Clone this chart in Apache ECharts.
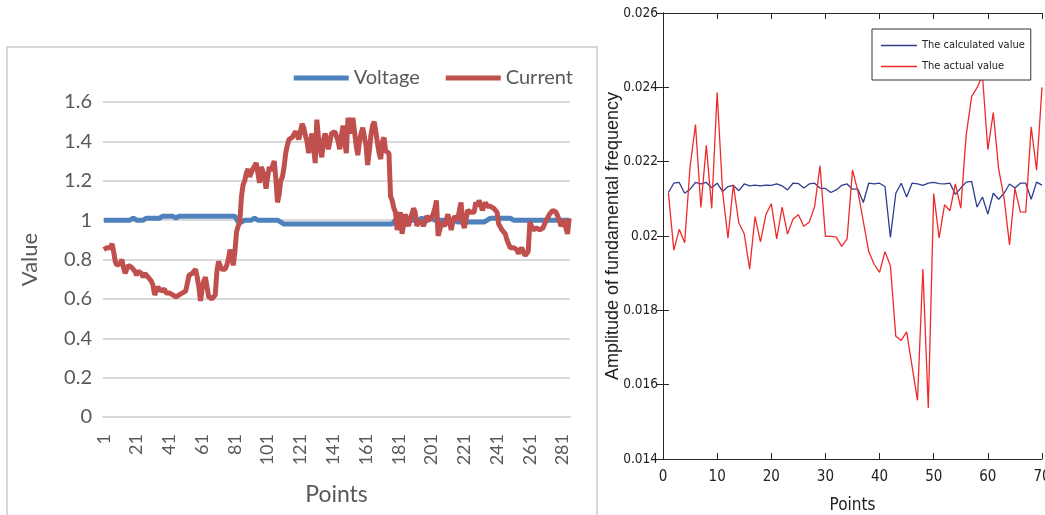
<!DOCTYPE html>
<html lang="en" style="height: 100%">
<head>
  <meta charset="utf-8" />
  <title>Voltage / current and fundamental amplitude</title>
</head>
<body style="height: 100%; margin: 0; background: #fff">
  <div id="container" style="width: 1045px; height: 515px"></div>

  <script src="https://cdn.jsdelivr.net/npm/echarts@6/dist/echarts.min.js"></script>

  <script>
    // ---- left chart data (Excel style) ----
    const voltage = [
      1.00,1.00,1.00,1.00,1.00,1.00,1.00,1.00,1.00,1.00,
      1.00,1.00,1.00,1.00,1.00,1.00,1.00,1.00,1.01,1.00,
      1.00,1.00,1.00,1.00,1.00,1.01,1.01,1.00,1.01,1.01,
      1.01,1.01,1.01,1.02,1.01,1.01,1.02,1.01,1.02,1.02,
      1.02,1.01,1.02,1.02,1.01,1.02,1.02,1.02,1.02,1.02,
      1.02,1.02,1.02,1.02,1.02,1.02,1.02,1.02,1.02,1.02,
      1.02,1.02,1.02,1.02,1.02,1.02,1.02,1.02,1.02,1.02,
      1.02,1.02,1.02,1.02,1.02,1.02,1.02,1.02,1.02,1.02,
      1.02,1.01,0.99,0.98,0.99,0.99,1.00,1.00,1.00,1.00,
      1.00,1.00,1.01,1.00,1.00,1.00,1.00,1.01,1.00,1.00,
      1.00,1.00,1.00,1.00,1.00,1.00,1.00,1.00,0.99,0.99,
      0.98,0.98,0.98,0.98,0.98,0.98,0.98,0.98,0.98,0.98,
      0.98,0.98,0.98,0.98,0.98,0.98,0.98,0.98,0.98,0.98,
      0.98,0.98,0.98,0.98,0.98,0.98,0.98,0.98,0.98,0.98,
      0.98,0.98,0.98,0.98,0.98,0.98,0.98,0.98,0.98,0.98,
      0.98,0.98,0.98,0.98,0.98,0.98,0.98,0.98,0.98,0.98,
      0.98,0.98,0.98,0.98,0.98,0.98,0.98,0.98,0.98,0.98,
      0.98,0.98,0.98,0.98,0.98,0.98,0.98,0.99,1.00,1.01,
      1.01,1.01,1.00,1.01,1.01,1.00,1.01,1.00,1.00,1.01,
      1.00,1.01,1.00,1.00,1.01,1.00,1.00,1.01,1.00,1.00,
      1.01,1.00,1.00,1.01,1.00,1.00,1.00,1.01,1.00,1.00,
      1.00,1.01,1.00,1.00,1.00,0.99,0.99,0.99,0.99,0.99,
      0.99,0.99,0.99,0.99,0.99,0.99,0.99,0.99,0.99,0.99,
      0.99,0.99,0.99,1.00,1.00,1.00,1.01,1.01,1.01,1.01,
      1.01,1.01,1.01,1.01,1.01,1.01,1.01,1.01,1.01,1.01,
      1.00,1.00,1.00,1.00,1.00,1.00,1.00,1.00,1.00,1.00,
      1.00,1.00,1.00,1.00,1.00,1.00,1.00,1.00,1.00,1.00,
      1.00,1.00,1.00,1.00,1.00,1.00,1.00,1.00,1.00,1.00,
      1.00,1.00,1.00,1.00,1.00
    ];
    const current = [
      0.85,0.85,0.86,0.85,0.86,0.88,0.84,0.79,0.77,0.76,
      0.78,0.80,0.76,0.73,0.75,0.77,0.76,0.76,0.75,0.74,
      0.72,0.74,0.75,0.73,0.71,0.73,0.73,0.71,0.71,0.69,
      0.67,0.62,0.64,0.66,0.65,0.64,0.64,0.65,0.63,0.62,
      0.63,0.63,0.62,0.61,0.61,0.62,0.62,0.63,0.63,0.64,
      0.64,0.68,0.72,0.73,0.73,0.74,0.75,0.71,0.66,0.59,
      0.65,0.69,0.71,0.66,0.61,0.60,0.60,0.60,0.62,0.74,
      0.79,0.78,0.75,0.74,0.75,0.77,0.80,0.85,0.82,0.77,
      0.84,0.94,0.97,0.99,1.12,1.18,1.20,1.24,1.26,1.22,
      1.24,1.26,1.25,1.29,1.24,1.19,1.27,1.25,1.22,1.16,
      1.22,1.27,1.25,1.24,1.30,1.21,1.09,1.13,1.20,1.22,
      1.27,1.34,1.38,1.41,1.40,1.42,1.43,1.45,1.44,1.41,
      1.45,1.49,1.47,1.43,1.40,1.34,1.39,1.44,1.37,1.29,
      1.51,1.42,1.36,1.32,1.40,1.44,1.41,1.36,1.40,1.44,
      1.45,1.45,1.46,1.40,1.36,1.43,1.48,1.40,1.34,1.52,
      1.47,1.44,1.52,1.45,1.38,1.33,1.40,1.44,1.47,1.48,
      1.38,1.28,1.35,1.43,1.48,1.50,1.45,1.39,1.34,1.31,
      1.40,1.42,1.35,1.36,1.34,1.12,1.10,1.06,1.04,0.95,
      1.00,1.04,0.93,0.98,1.03,0.99,0.97,1.01,1.03,1.06,
      1.04,0.97,0.99,1.00,0.99,0.97,0.99,1.02,1.01,1.00,
      1.01,1.03,1.06,1.10,0.92,0.95,0.99,0.98,0.97,1.00,
      1.03,0.99,0.95,0.99,1.02,1.01,1.00,1.05,1.09,0.99,
      0.96,1.00,1.05,1.04,1.04,1.05,1.04,1.09,1.07,1.10,
      1.08,1.05,1.07,1.09,1.07,1.06,1.07,1.08,1.06,1.05,
      1.04,0.98,0.97,0.95,0.95,0.93,0.90,0.88,0.86,0.85,
      0.86,0.87,0.85,0.83,0.84,0.86,0.84,0.82,0.83,0.84,
      0.99,0.97,0.95,0.95,0.96,0.96,0.95,0.96,0.96,0.97,
      1.00,1.01,1.03,1.04,1.05,1.04,1.04,1.03,1.00,0.97,
      0.98,1.00,0.96,0.93,1.01
    ];
    const points = current.map((v, i) => String(i + 1));

    // ---- right chart data (MATLAB style), points 1..70 ----
    const calculated = [
      0.02117,0.02142,0.02144,0.02115,0.02126,0.02144,0.02140,0.02144,0.02130,0.02142,
      0.02120,0.02133,0.02136,0.02122,0.02140,0.02135,0.02137,0.02135,0.02137,0.02136,
      0.02140,0.02135,0.02124,0.02142,0.02141,0.02129,0.02140,0.02142,0.02129,0.02128,
      0.02117,0.02124,0.02136,0.02140,0.02126,0.02126,0.02090,0.02142,0.02140,0.02142,
      0.02133,0.01996,0.02115,0.02142,0.02105,0.02142,0.02140,0.02136,0.02142,0.02144,
      0.02141,0.02140,0.02142,0.02112,0.02129,0.02145,0.02147,0.02078,0.02105,0.02059,
      0.02115,0.02099,0.02115,0.02140,0.02129,0.02142,0.02142,0.02099,0.02145,0.02137
    ];
    const actual = [
      0.02116,0.01962,0.02018,0.01982,0.02186,0.02300,0.02077,0.02244,0.02074,0.02386,
      0.02120,0.01994,0.02138,0.02035,0.02006,0.01911,0.02052,0.01984,0.02057,0.02087,
      0.01992,0.02078,0.02005,0.02045,0.02057,0.02026,0.02037,0.02079,0.02189,0.01999,
      0.01999,0.01997,0.01972,0.01992,0.02178,0.02120,0.02039,0.01958,0.01924,0.01902,
      0.01958,0.01920,0.01730,0.01719,0.01742,0.01650,0.01558,0.01911,0.01537,0.02114,
      0.01995,0.02084,0.02068,0.02140,0.02075,0.02272,0.02375,0.02399,0.02432,0.02232,
      0.02332,0.02180,0.02102,0.01976,0.02128,0.02065,0.02064,0.02294,0.02177,0.02400
    ];
    const rightX = actual.map((v, i) => i + 1);

    const excelFont = 'Lato, "Open Sans", sans-serif';
    const matFont = '"DejaVu Sans Condensed", "Liberation Sans", Arial, sans-serif';
    const excelGrey = '#595959';

    var dom = document.getElementById('container');
    var myChart = echarts.init(dom, null, { renderer: 'canvas' });

    var option = {
      animation: false,
      backgroundColor: '#fff',
      graphic: [
        {
          type: 'rect',
          shape: { x: 7, y: 47, width: 590, height: 480 },
          style: { fill: 'none', stroke: '#D9D9D9', lineWidth: 2 },
          z: 0
        }
      ],
      legend: [
        {
          data: ['Voltage', 'Current'],
          right: 467,
          top: 63,
          icon: 'rect',
          itemWidth: 55,
          itemHeight: 5,
          itemGap: 26,
          textStyle: { fontFamily: excelFont, fontSize: 20, color: excelGrey }
        },
        {
          data: ['The calculated value', 'The actual value'],
          orient: 'vertical',
          left: 872,
          top: 29,
          width: 157,
          padding: [11, 6, 8, 9],
          icon: 'rect',
          itemWidth: 36,
          itemHeight: 1.5,
          itemGap: 10,
          borderColor: '#333',
          borderWidth: 1,
          borderRadius: 0,
          backgroundColor: '#fff',
          textStyle: { fontFamily: matFont, fontSize: 11, color: '#222' }
        }
      ],
      grid: [
        { left: 103, top: 102, width: 467, height: 315, outerBoundsMode: 'none' },
        { left: 663, top: 13, width: 379, height: 446, outerBoundsMode: 'none' }
      ],
      xAxis: [
        {
          type: 'category',
          gridIndex: 0,
          data: points,
          boundaryGap: true,
          name: 'Points',
          nameLocation: 'middle',
          nameGap: 66,
          nameTextStyle: { fontFamily: excelFont, fontSize: 23, color: excelGrey },
          axisLine: { lineStyle: { color: '#D9D9D9', width: 2 } },
          axisTick: { show: false },
          axisLabel: {
            interval: 19,
            rotate: 90,
            margin: 17,
            fontFamily: excelFont,
            fontSize: 18,
            color: excelGrey
          }
        },
        {
          type: 'value',
          gridIndex: 1,
          min: 0,
          max: 70,
          interval: 10,
          name: 'Points',
          nameLocation: 'middle',
          nameGap: 38,
          nameMoveOverlap: false,
          nameTextStyle: { fontFamily: matFont, fontSize: 17, color: '#222' },
          splitLine: { show: false },
          axisLine: { lineStyle: { color: '#262626', width: 1 } },
          axisTick: { inside: true, length: 6, lineStyle: { color: '#262626' } },
          axisLabel: { margin: 11, fontFamily: matFont, fontSize: 15, color: '#222' }
        },
        {
          type: 'value',
          gridIndex: 1,
          position: 'top',
          min: 0,
          max: 70,
          interval: 10,
          splitLine: { show: false },
          axisLine: { lineStyle: { color: '#262626', width: 1 } },
          axisTick: { inside: true, length: 6, lineStyle: { color: '#262626' } },
          axisLabel: { show: false }
        }
      ],
      yAxis: [
        {
          type: 'value',
          gridIndex: 0,
          min: 0,
          max: 1.6,
          interval: 0.2,
          name: 'Value',
          nameLocation: 'middle',
          nameGap: 62,
          nameTextStyle: { fontFamily: excelFont, fontSize: 22, color: excelGrey },
          axisLine: { show: false },
          axisTick: { show: false },
          splitLine: { lineStyle: { color: '#D9D9D9', width: 2 } },
          axisLabel: { margin: 11, fontFamily: excelFont, fontSize: 20, color: excelGrey }
        },
        {
          type: 'value',
          gridIndex: 1,
          min: 0.014,
          max: 0.026,
          interval: 0.002,
          name: 'Amplitude of fundamental frequency',
          nameLocation: 'middle',
          nameGap: 41,
          nameMoveOverlap: false,
          nameTextStyle: { fontFamily: '"Liberation Sans", Arial, sans-serif', fontSize: 18, color: '#222' },
          splitLine: { show: false },
          axisLine: { show: true, lineStyle: { color: '#262626', width: 1 } },
          axisTick: { show: true, inside: true, length: 6, lineStyle: { color: '#262626' } },
          axisLabel: { margin: 5, fontFamily: matFont, fontSize: 13.5, color: '#222' }
        },
        {
          type: 'value',
          gridIndex: 1,
          position: 'right',
          min: 0.014,
          max: 0.026,
          interval: 0.002,
          splitLine: { show: false },
          axisLine: { show: true, lineStyle: { color: '#262626', width: 1 } },
          axisTick: { show: true, inside: true, length: 6, lineStyle: { color: '#262626' } },
          axisLabel: { show: false }
        }
      ],
      series: [
        {
          name: 'Voltage',
          type: 'line',
          xAxisIndex: 0,
          yAxisIndex: 0,
          data: voltage,
          showSymbol: false,
          symbol: 'none',
          color: '#4F81BD',
          lineStyle: { width: 5, color: '#4F81BD' }
        },
        {
          name: 'Current',
          type: 'line',
          xAxisIndex: 0,
          yAxisIndex: 0,
          data: current,
          showSymbol: false,
          symbol: 'none',
          color: '#C0504D',
          lineStyle: { width: 5, color: '#C0504D' }
        },
        {
          name: 'The calculated value',
          type: 'line',
          xAxisIndex: 1,
          yAxisIndex: 1,
          data: rightX.map((x, i) => [x, calculated[i]]),
          showSymbol: false,
          symbol: 'none',
          color: '#2E3D8F',
          lineStyle: { width: 1.3, color: '#2E3D8F' }
        },
        {
          name: 'The actual value',
          type: 'line',
          xAxisIndex: 1,
          yAxisIndex: 1,
          data: rightX.map((x, i) => [x, actual[i]]),
          showSymbol: false,
          symbol: 'none',
          color: '#EE2A2A',
          lineStyle: { width: 1.3, color: '#EE2A2A' }
        }
      ]
    };

    myChart.setOption(option);

    window.onresize = function() {
      myChart.resize();
    };
  </script>
</body>
</html>
